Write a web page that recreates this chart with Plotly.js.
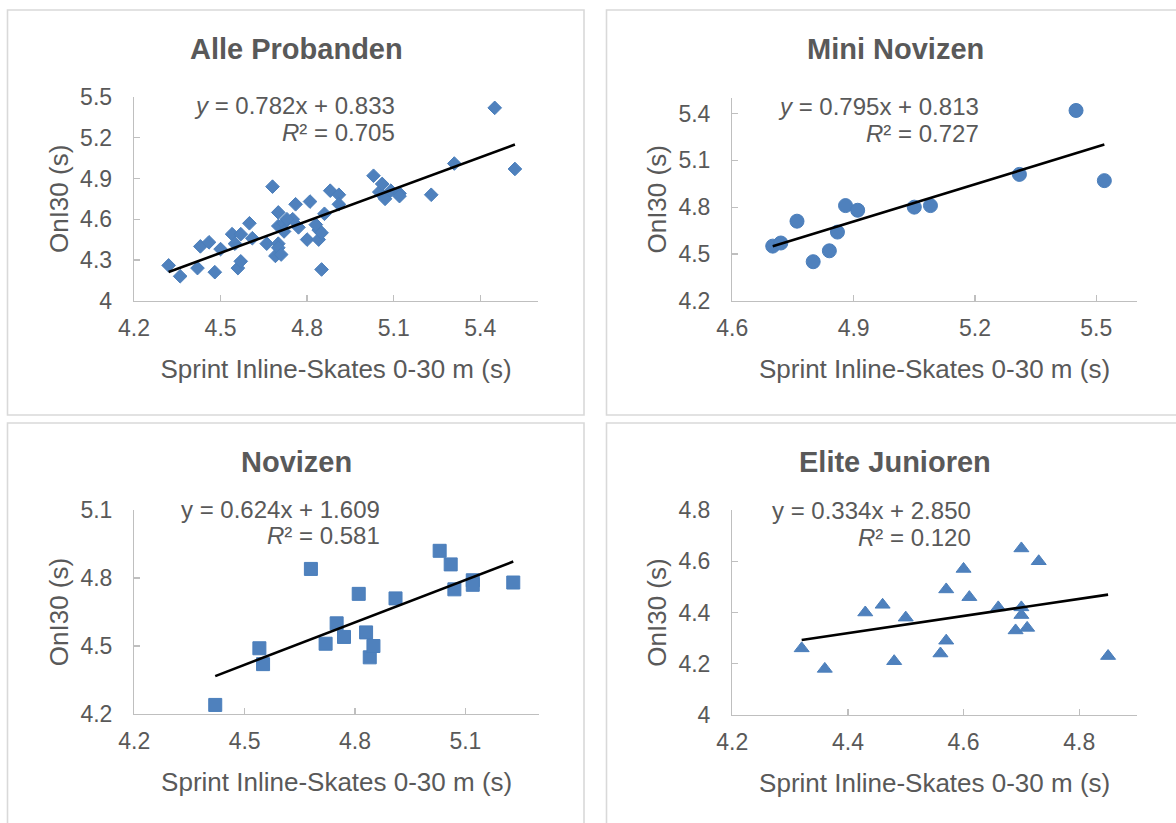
<!DOCTYPE html>
<html>
<head>
<meta charset="utf-8">
<script src="https://cdn.plot.ly/plotly-3.0.1.min.js"></script>
<style>html,body{margin:0;padding:0;background:#fff;}#chart{width:1176px;height:823px;}</style>
</head>
<body>
<div id="chart"></div>
<script>
// ---- Data ----
const titles = ["Alle Probanden", "Mini Novizen", "Novizen", "Elite Junioren"];
const xAxisTitle = "Sprint Inline-Skates 0-30 m (s)";
const yAxisTitle = "OnI30 (s)";

const miniX = [4.70, 4.72, 4.76, 4.80, 4.84, 4.86, 4.88, 4.91, 5.05, 5.09, 5.31, 5.45, 5.52];
const miniY = [4.55, 4.57, 4.71, 4.45, 4.52, 4.64, 4.81, 4.78, 4.80, 4.81, 5.01, 5.42, 4.97];

const novX = [4.42, 4.54, 4.55, 4.68, 4.72, 4.75, 4.77, 4.81, 4.83, 4.84, 4.85, 4.91, 5.03, 5.06, 5.07, 5.12, 5.12, 5.23];
const novY = [4.24, 4.49, 4.42, 4.84, 4.51, 4.60, 4.54, 4.73, 4.56, 4.45, 4.50, 4.71, 4.92, 4.86, 4.75, 4.79, 4.77, 4.78];

const eliteX = [4.32, 4.36, 4.43, 4.46, 4.48, 4.50, 4.56, 4.57, 4.57, 4.60, 4.61, 4.66, 4.69, 4.70, 4.70, 4.70, 4.71, 4.73, 4.85];
const eliteY = [4.26, 4.18, 4.40, 4.43, 4.21, 4.38, 4.24, 4.29, 4.49, 4.57, 4.46, 4.42, 4.33, 4.65, 4.42, 4.39, 4.34, 4.60, 4.23];

// "Alle Probanden" = all three groups together
const allX = miniX.concat(novX, eliteX);
const allY = miniY.concat(novY, eliteY);

const slopes = [0.782, 0.795, 0.624, 0.334];
const intercepts = [0.833, 0.813, 1.609, 2.850];
const eqLabels = ["<i>y</i> = 0.782x + 0.833", "<i>y</i> = 0.795x + 0.813", "y = 0.624x + 1.609", "y = 0.334x + 2.850"];
const r2Labels = ["<i>R</i>² = 0.705", "<i>R</i>² = 0.727", "<i>R</i>² = 0.581", "<i>R</i>² = 0.120"];

const xTicks = [[4.2, 4.5, 4.8, 5.1, 5.4], [4.6, 4.9, 5.2, 5.5], [4.2, 4.5, 4.8, 5.1], [4.2, 4.4, 4.6, 4.8]];
const yTicks = [[4, 4.3, 4.6, 4.9, 5.2, 5.5], [4.2, 4.5, 4.8, 5.1, 5.4], [4.2, 4.5, 4.8, 5.1], [4, 4.2, 4.4, 4.6, 4.8]];
const xRanges = [[4.2, 5.6], [4.6, 5.6], [4.2, 5.3], [4.2, 4.9]];
const yRanges = [[4, 5.5], [4.2, 5.5], [4.2, 5.1], [4, 4.8]];

// ---- Styling / layout ----
const W = 1176, H = 823;
const FONT = "Liberation Sans, Arial, Helvetica, sans-serif";
const TXT = "#595959";
const BLUE = "#4f81bd";
const symbols = ["diamond", "circle", "square", "triangle-up"];
const sizes = [10.5, 14, 13, 13];
const xs = [allX, miniX, novX, eliteX];
const ys = [allY, miniY, novY, eliteY];

// plot areas in pixels [x0, x1, yTop, yBottom]
const areas = [[134, 538, 97, 300.7], [732.3, 1136.7, 98, 300.7], [134.3, 539, 510, 714], [732.3, 1137, 510, 715]];
const titlePos = [[296, 49], [895, 49], [296, 462], [895, 462]];
const eqPos = [[397, 105, 133], [981, 106.5, 134], [382, 509, 535.5], [973, 510, 537]];

const px = v => v / W;
const py = v => 1 - v / H;

const data = [];
const layout = {
  width: W, height: H,
  margin: {l: 0, r: 0, t: 0, b: 0},
  paper_bgcolor: "#fff", plot_bgcolor: "rgba(0,0,0,0)",
  showlegend: false,
  font: {family: FONT, color: TXT},
  annotations: [], shapes: []
};

for (let i = 0; i < 4; i++) {
  const n = i === 0 ? "" : String(i + 1);
  const xa = "x" + n, ya = "y" + n;
  data.push({
    type: "scatter", mode: "markers", x: xs[i], y: ys[i], xaxis: xa, yaxis: ya,
    marker: {symbol: symbols[i], size: sizes[i], color: BLUE, line: {color: "#4a7ebb", width: 1}},
    hoverinfo: "x+y"
  });
  const xmin = Math.min(...xs[i]), xmax = Math.max(...xs[i]);
  data.push({
    type: "scatter", mode: "lines", xaxis: xa, yaxis: ya,
    x: [xmin, xmax], y: [slopes[i] * xmin + intercepts[i], slopes[i] * xmax + intercepts[i]],
    line: {color: "#000", width: 2.6}, hoverinfo: "skip"
  });
  const a = areas[i];
  const common = {
    showgrid: false, zeroline: false, showline: true, linecolor: "#bfbfbf", linewidth: 1.3,
    ticks: "inside", ticklen: 6, tickwidth: 1.3, tickcolor: "#bfbfbf",
    tickfont: {size: 23, color: TXT, family: FONT}, tickmode: "array", fixedrange: true
  };
  layout["xaxis" + n] = Object.assign({}, common, {
    domain: [px(a[0]), px(a[1])], anchor: ya, range: xRanges[i], tickvals: xTicks[i],
    ticklabelstandoff: 6,
    title: {text: xAxisTitle, font: {size: 26, color: TXT, family: FONT}, standoff: 20}
  });
  layout["yaxis" + n] = Object.assign({}, common, {
    domain: [py(a[3]), py(a[2])], anchor: xa, range: yRanges[i], tickvals: yTicks[i],
    ticklabelstandoff: 16,
    title: {text: yAxisTitle, font: {size: 26, color: TXT, family: FONT}, standoff: 4}
  });
  layout.annotations.push({
    xref: "paper", yref: "paper", x: px(titlePos[i][0]), y: py(titlePos[i][1]),
    xanchor: "center", yanchor: "middle", showarrow: false,
    text: "<b>" + titles[i] + "</b>", font: {size: 29, color: TXT, family: FONT}
  });
  layout.annotations.push({
    xref: "paper", yref: "paper", x: px(eqPos[i][0]), y: py(eqPos[i][1]),
    xanchor: "right", yanchor: "middle", showarrow: false,
    text: eqLabels[i], font: {size: 24, color: TXT, family: FONT}
  });
  layout.annotations.push({
    xref: "paper", yref: "paper", x: px(eqPos[i][0]), y: py(eqPos[i][2]),
    xanchor: "right", yanchor: "middle", showarrow: false,
    text: r2Labels[i], font: {size: 24, color: TXT, family: FONT}
  });
}

// panel frames
const frames = [[7.5, 584, 10, 415], [606.5, 1190, 10, 415], [7.5, 584, 423, 840], [606.5, 1190, 423, 840]];
frames.forEach(f => layout.shapes.push({
  type: "rect", xref: "paper", yref: "paper", layer: "below",
  x0: px(f[0]), x1: px(f[1]), y0: py(f[3]), y1: py(f[2]),
  line: {color: "#d9d9d9", width: 1.6}, fillcolor: "rgba(0,0,0,0)"
}));

Plotly.newPlot("chart", data, layout, {staticPlot: true, displayModeBar: false});
</script>
</body>
</html>
